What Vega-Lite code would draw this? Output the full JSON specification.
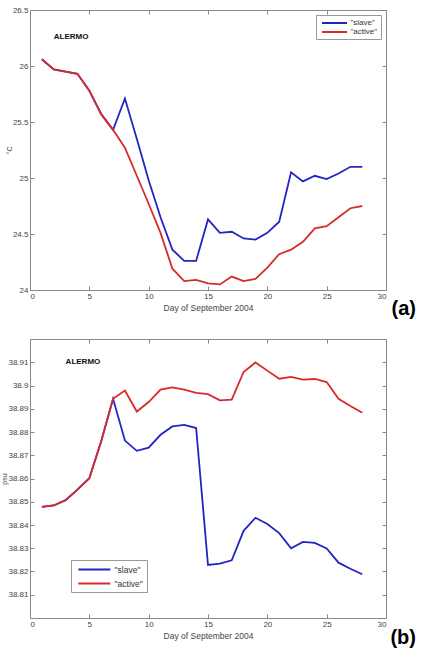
{
  "$schema": "https://vega.github.io/schema/vega-lite/v6.json",
  "background": "white",
  "padding": {"left": 0, "top": 5, "right": 0, "bottom": 0},
  "bounds": "flush",
  "spacing": 49,
  "config": {
    "font": "Liberation Sans",
    "view": {"stroke": "#888", "strokeWidth": 1},
    "axis": {
      "grid": false,
      "domainColor": "#888",
      "tickColor": "#888",
      "labelColor": "#444",
      "labelFontSize": 8,
      "titleFontSize": 8.5,
      "titleFontWeight": "normal",
      "titleColor": "#444",
      "tickSize": -4,
      "labelPadding": 6
    },
    "legend": {
      "labelFont": "Liberation Sans",
      "labelFontSize": 8,
      "labelColor": "#333",
      "strokeColor": "#999",
      "fillColor": "white",
      "symbolStrokeWidth": 2,
      "title": null
    }
  },
  "datasets": {
    "temp": [
      {"day": 1, "series": "slave", "value": 26.06},
      {"day": 2, "series": "slave", "value": 25.97},
      {"day": 3, "series": "slave", "value": 25.95},
      {"day": 4, "series": "slave", "value": 25.93},
      {"day": 5, "series": "slave", "value": 25.78},
      {"day": 6, "series": "slave", "value": 25.57},
      {"day": 7, "series": "slave", "value": 25.43},
      {"day": 8, "series": "slave", "value": 25.71},
      {"day": 9, "series": "slave", "value": 25.35},
      {"day": 10, "series": "slave", "value": 24.98},
      {"day": 11, "series": "slave", "value": 24.65},
      {"day": 12, "series": "slave", "value": 24.36},
      {"day": 13, "series": "slave", "value": 24.26},
      {"day": 14, "series": "slave", "value": 24.26},
      {"day": 15, "series": "slave", "value": 24.63},
      {"day": 16, "series": "slave", "value": 24.51},
      {"day": 17, "series": "slave", "value": 24.52},
      {"day": 18, "series": "slave", "value": 24.46},
      {"day": 19, "series": "slave", "value": 24.45},
      {"day": 20, "series": "slave", "value": 24.51},
      {"day": 21, "series": "slave", "value": 24.61},
      {"day": 22, "series": "slave", "value": 25.05},
      {"day": 23, "series": "slave", "value": 24.97},
      {"day": 24, "series": "slave", "value": 25.02},
      {"day": 25, "series": "slave", "value": 24.99},
      {"day": 26, "series": "slave", "value": 25.04},
      {"day": 27, "series": "slave", "value": 25.10},
      {"day": 28, "series": "slave", "value": 25.10},
      {"day": 1, "series": "active", "value": 26.06},
      {"day": 2, "series": "active", "value": 25.97},
      {"day": 3, "series": "active", "value": 25.95},
      {"day": 4, "series": "active", "value": 25.93},
      {"day": 5, "series": "active", "value": 25.78},
      {"day": 6, "series": "active", "value": 25.57},
      {"day": 7, "series": "active", "value": 25.43},
      {"day": 8, "series": "active", "value": 25.27},
      {"day": 9, "series": "active", "value": 25.02},
      {"day": 10, "series": "active", "value": 24.77},
      {"day": 11, "series": "active", "value": 24.51},
      {"day": 12, "series": "active", "value": 24.19},
      {"day": 13, "series": "active", "value": 24.08},
      {"day": 14, "series": "active", "value": 24.09},
      {"day": 15, "series": "active", "value": 24.06},
      {"day": 16, "series": "active", "value": 24.05},
      {"day": 17, "series": "active", "value": 24.12},
      {"day": 18, "series": "active", "value": 24.08},
      {"day": 19, "series": "active", "value": 24.10},
      {"day": 20, "series": "active", "value": 24.20},
      {"day": 21, "series": "active", "value": 24.32},
      {"day": 22, "series": "active", "value": 24.36},
      {"day": 23, "series": "active", "value": 24.43},
      {"day": 24, "series": "active", "value": 24.55},
      {"day": 25, "series": "active", "value": 24.57},
      {"day": 26, "series": "active", "value": 24.65},
      {"day": 27, "series": "active", "value": 24.73},
      {"day": 28, "series": "active", "value": 24.75}
    ],
    "sal": [
      {"day": 1, "series": "slave", "value": 38.8478},
      {"day": 2, "series": "slave", "value": 38.8484},
      {"day": 3, "series": "slave", "value": 38.8507},
      {"day": 4, "series": "slave", "value": 38.8552},
      {"day": 5, "series": "slave", "value": 38.8601},
      {"day": 6, "series": "slave", "value": 38.8760},
      {"day": 7, "series": "slave", "value": 38.8943},
      {"day": 8, "series": "slave", "value": 38.8763},
      {"day": 9, "series": "slave", "value": 38.8719},
      {"day": 10, "series": "slave", "value": 38.8733},
      {"day": 11, "series": "slave", "value": 38.8788},
      {"day": 12, "series": "slave", "value": 38.8824},
      {"day": 13, "series": "slave", "value": 38.8831},
      {"day": 14, "series": "slave", "value": 38.8817},
      {"day": 15, "series": "slave", "value": 38.8228},
      {"day": 16, "series": "slave", "value": 38.8234},
      {"day": 17, "series": "slave", "value": 38.8248},
      {"day": 18, "series": "slave", "value": 38.8375},
      {"day": 19, "series": "slave", "value": 38.8431},
      {"day": 20, "series": "slave", "value": 38.8404},
      {"day": 21, "series": "slave", "value": 38.8365},
      {"day": 22, "series": "slave", "value": 38.8300},
      {"day": 23, "series": "slave", "value": 38.8327},
      {"day": 24, "series": "slave", "value": 38.8323},
      {"day": 25, "series": "slave", "value": 38.8299},
      {"day": 26, "series": "slave", "value": 38.8238},
      {"day": 27, "series": "slave", "value": 38.8212},
      {"day": 28, "series": "slave", "value": 38.8188},
      {"day": 1, "series": "active", "value": 38.8478},
      {"day": 2, "series": "active", "value": 38.8484},
      {"day": 3, "series": "active", "value": 38.8507},
      {"day": 4, "series": "active", "value": 38.8552},
      {"day": 5, "series": "active", "value": 38.8601},
      {"day": 6, "series": "active", "value": 38.8760},
      {"day": 7, "series": "active", "value": 38.8943},
      {"day": 8, "series": "active", "value": 38.8978},
      {"day": 9, "series": "active", "value": 38.8888},
      {"day": 10, "series": "active", "value": 38.8929},
      {"day": 11, "series": "active", "value": 38.8982},
      {"day": 12, "series": "active", "value": 38.8992},
      {"day": 13, "series": "active", "value": 38.8982},
      {"day": 14, "series": "active", "value": 38.8968},
      {"day": 15, "series": "active", "value": 38.8963},
      {"day": 16, "series": "active", "value": 38.8936},
      {"day": 17, "series": "active", "value": 38.8939},
      {"day": 18, "series": "active", "value": 38.9058},
      {"day": 19, "series": "active", "value": 38.9099},
      {"day": 20, "series": "active", "value": 38.9064},
      {"day": 21, "series": "active", "value": 38.9029},
      {"day": 22, "series": "active", "value": 38.9037},
      {"day": 23, "series": "active", "value": 38.9025},
      {"day": 24, "series": "active", "value": 38.9028},
      {"day": 25, "series": "active", "value": 38.9015},
      {"day": 26, "series": "active", "value": 38.8943},
      {"day": 27, "series": "active", "value": 38.8912},
      {"day": 28, "series": "active", "value": 38.8883}
    ],
    "labA": [{"day": 2.0, "value": 26.26, "label": "ALERMO"}],
    "labB": [{"day": 3.0, "value": 38.91, "label": "ALERMO"}]
  },
  "resolve": {"legend": {"color": "independent"}, "scale": {"y": "independent"}},
  "vconcat": [
    {
      "width": 356,
      "height": 280,
      "title": {"text": "(a)", "orient": "bottom", "anchor": "end", "frame": "group", "fontSize": 20, "fontWeight": "bold", "color": "black", "dx": 30, "offset": -13},
      "resolve": {"axis": {"x": "independent", "y": "independent"}},
      "layer": [
        {
          "data": {"name": "temp"},
          "transform": [{"filter": "datum.series === 'slave'"}],
          "mark": {"type": "line", "strokeWidth": 1.8},
          "encoding": {
            "x": {"field": "day", "type": "quantitative", "scale": {"domain": [0, 30], "nice": false},
                  "axis": {"values": [0, 5, 10, 15, 20, 25, 30], "title": "Day of September 2004", "titlePadding": 3}},
            "y": {"field": "value", "type": "quantitative", "scale": {"domain": [24, 26.5], "nice": false, "zero": false},
                  "axis": {"values": [24, 24.5, 25, 25.5, 26, 26.5], "format": "~g", "title": "°C", "titlePadding": 0, "titleFontSize": 7}},
            "color": {"field": "series", "type": "nominal",
                      "scale": {"domain": ["slave", "active"], "range": ["#2424c4", "#d82a2a"]},
                      "legend": {"orient": "none", "legendX": 286, "legendY": 5, "symbolType": "M-3.125,0H3.125", "symbolSize": 64, "symbolOffset": 10.5, "padding": 3, "rowPadding": 0, "labelOffset": 11, "labelExpr": "'\"' + datum.label + '\"'"}}
          }
        },
        {
          "data": {"name": "temp"},
          "transform": [{"filter": "datum.series === 'active'"}],
          "mark": {"type": "line", "strokeWidth": 1.8},
          "encoding": {
            "x": {"field": "day", "type": "quantitative", "axis": {"orient": "top", "values": [0, 5, 10, 15, 20, 25, 30], "labels": false, "domain": false, "title": null}},
            "y": {"field": "value", "type": "quantitative", "axis": {"orient": "right", "values": [24, 24.5, 25, 25.5, 26, 26.5], "labels": false, "domain": false, "title": null}},
            "color": {"field": "series", "type": "nominal"}
          }
        },
        {
          "data": {"name": "labA"},
          "mark": {"type": "text", "align": "left", "baseline": "middle", "fontSize": 8, "fontWeight": "bold", "color": "#111"},
          "encoding": {
            "x": {"field": "day", "type": "quantitative", "axis": null},
            "y": {"field": "value", "type": "quantitative", "axis": null},
            "text": {"field": "label"}
          }
        }
      ]
    },
    {
      "width": 356,
      "height": 279,
      "title": {"text": "(b)", "orient": "bottom", "anchor": "end", "frame": "group", "fontSize": 20, "fontWeight": "bold", "color": "black", "dx": 30, "offset": -12},
      "resolve": {"axis": {"x": "independent", "y": "independent"}},
      "layer": [
        {
          "data": {"name": "sal"},
          "transform": [{"filter": "datum.series === 'slave'"}],
          "mark": {"type": "line", "strokeWidth": 1.8},
          "encoding": {
            "x": {"field": "day", "type": "quantitative", "scale": {"domain": [0, 30], "nice": false},
                  "axis": {"values": [0, 5, 10, 15, 20, 25, 30], "title": "Day of September 2004", "titlePadding": 3}},
            "y": {"field": "value", "type": "quantitative", "scale": {"domain": [38.8, 38.92], "nice": false, "zero": false},
                  "axis": {"values": [38.81, 38.82, 38.83, 38.84, 38.85, 38.86, 38.87, 38.88, 38.89, 38.9, 38.91], "format": "~g", "title": "psu", "titlePadding": 0, "titleFontSize": 7}},
            "color": {"field": "series", "type": "nominal",
                      "scale": {"domain": ["slave", "active"], "range": ["#2424c4", "#d82a2a"]},
                      "legend": {"orient": "none", "legendX": 41, "legendY": 221, "symbolType": "M-3.2,0H3.2", "symbolSize": 100, "symbolOffset": 13.8, "padding": 3.5, "rowPadding": 3, "labelOffset": 14.3, "labelFontSize": 8.5, "labelExpr": "'\"' + datum.label + '\"\u2002\u2002'"}}
          }
        },
        {
          "data": {"name": "sal"},
          "transform": [{"filter": "datum.series === 'active'"}],
          "mark": {"type": "line", "strokeWidth": 1.8},
          "encoding": {
            "x": {"field": "day", "type": "quantitative", "axis": {"orient": "top", "values": [0, 5, 10, 15, 20, 25, 30], "labels": false, "domain": false, "title": null}},
            "y": {"field": "value", "type": "quantitative", "axis": {"orient": "right", "values": [38.81, 38.82, 38.83, 38.84, 38.85, 38.86, 38.87, 38.88, 38.89, 38.9, 38.91], "labels": false, "domain": false, "title": null}},
            "color": {"field": "series", "type": "nominal"}
          }
        },
        {
          "data": {"name": "labB"},
          "mark": {"type": "text", "align": "left", "baseline": "middle", "fontSize": 8, "fontWeight": "bold", "color": "#111"},
          "encoding": {
            "x": {"field": "day", "type": "quantitative", "axis": null},
            "y": {"field": "value", "type": "quantitative", "axis": null},
            "text": {"field": "label"}
          }
        }
      ]
    }
  ]
}
